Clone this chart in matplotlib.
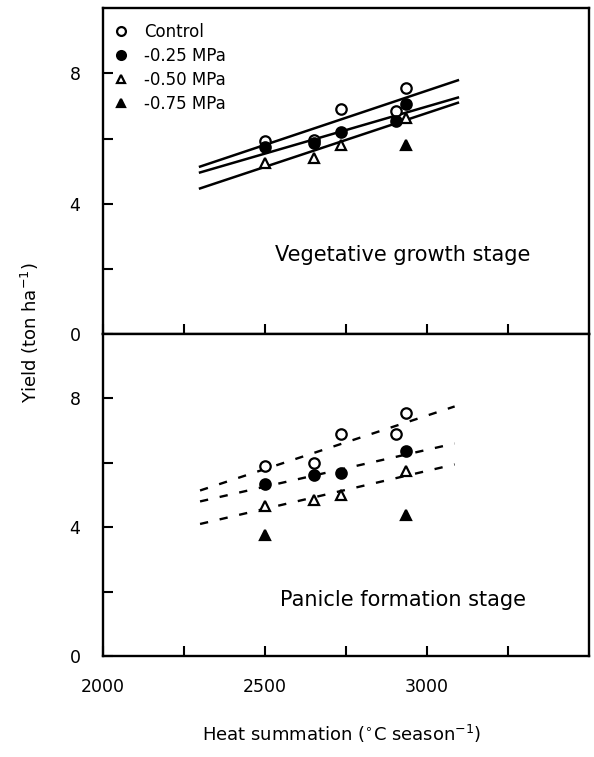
import matplotlib
matplotlib.use("Agg")
import matplotlib.pyplot as plt

# Heat summation (deg C per season) for each treatment
x_control = [2500, 2650, 2735, 2905, 2935]
x_025 = [2500, 2650, 2735, 2905, 2935]
x_050 = [2500, 2650, 2735, 2935]
x_075 = [2935]

# Vegetative growth stage yields (ton/ha)
veg_control = [5.93, 5.95, 6.90, 6.86, 7.54]
veg_025 = [5.73, 5.86, 6.20, 6.55, 7.05]
veg_050 = [5.24, 5.40, 5.80, 6.64]
veg_075 = [5.79]

# Panicle formation stage yields (ton/ha)
x_pan_025 = [2500, 2650, 2735, 2935]
x_pan_075 = [2500, 2935]
pan_control = [5.90, 5.98, 6.90, 6.88, 7.55]
pan_025 = [5.33, 5.62, 5.67, 6.36]
pan_050 = [4.67, 4.85, 5.00, 5.75]
pan_075 = [3.75, 4.37]

# regression lines (start / end values)
veg_fit_x = [2300, 3095]
veg_fits = [[5.14, 7.79], [4.96, 7.26], [4.47, 7.10]]
pan_fit_x = [2300, 3085]
pan_fits = [[5.14, 7.75], [4.80, 6.60], [4.10, 5.95]]

labels = ['Control', '-0.25 MPa', '-0.50 MPa', '-0.75 MPa']

plt.rcParams['font.family'] = 'DejaVu Sans'

fig = plt.figure(figsize=(5.94, 7.57), dpi=100)
ax1 = fig.add_axes([0.173, 0.5588, 0.819, 0.4302])
ax2 = fig.add_axes([0.173, 0.1334, 0.819, 0.4254], sharex=ax1)

ms = 7.5
mew = 1.6

def style_axis(ax):
    ax.set_xlim(2000, 3500)
    ax.set_ylim(0, 10)
    ax.set_yticks([0, 2, 4, 6, 8])
    ax.set_yticklabels(['0', '', '4', '', '8'])
    ax.set_xticks([2000, 2250, 2500, 2750, 3000, 3250])
    ax.tick_params(direction='in', length=7, width=1.5, labelsize=12.5,
                   pad=16, top=False, right=False)
    for s in ax.spines.values():
        s.set_linewidth(1.7)

# upper panel
ax = ax1
ax.plot(x_control, veg_control, 'o', mfc='white', mec='black', ms=ms, mew=mew, label=labels[0], zorder=3)
ax.plot(x_025, veg_025, 'o', mfc='black', mec='black', ms=ms, mew=mew, label=labels[1], zorder=3)
ax.plot(x_050, veg_050, '^', mfc='white', mec='black', ms=ms, mew=mew, label=labels[2], zorder=3)
ax.plot(x_075, veg_075, '^', mfc='black', mec='black', ms=ms, mew=mew, label=labels[3], zorder=3)
for f in veg_fits:
    ax.plot(veg_fit_x, f, '-', color='black', lw=1.8, zorder=2)
style_axis(ax)
ax.tick_params(labelbottom=False)
ax.text(0.617, 0.242, 'Vegetative growth stage', transform=ax.transAxes,
        ha='center', va='center', fontsize=15)
ax.legend(loc='upper left', frameon=False, fontsize=12, handlelength=0.8,
          handletextpad=1.0, labelspacing=0.35, borderaxespad=0.3,
          bbox_to_anchor=(0.0, 0.99), markerscale=0.85)

# lower panel
ax = ax2
ax.plot(x_control, pan_control, 'o', mfc='white', mec='black', ms=ms, mew=mew, zorder=3)
ax.plot(x_pan_025, pan_025, 'o', mfc='black', mec='black', ms=ms, mew=mew, zorder=3)
ax.plot(x_050, pan_050, '^', mfc='white', mec='black', ms=ms, mew=mew, zorder=3)
ax.plot(x_pan_075, pan_075, '^', mfc='black', mec='black', ms=ms, mew=mew, zorder=3)
for f in pan_fits:
    ax.plot(pan_fit_x, f, linestyle=(0, (3.5, 5)), color='black', lw=1.7, zorder=2)
style_axis(ax)
ax.set_xticklabels(['2000', '', '2500', '', '3000', ''])
ax.text(0.617, 0.174, 'Panicle formation stage', transform=ax.transAxes,
        ha='center', va='center', fontsize=15)

fig.text(0.05, 0.56, 'Yield (ton ha$^{-1}$)', rotation=90, ha='center',
         va='center', fontsize=13)
fig.text(0.575, 0.03, 'Heat summation ($^{\\circ}$C season$^{-1}$)',
         ha='center', va='center', fontsize=13)

fig.savefig('out.png', dpi=100)
